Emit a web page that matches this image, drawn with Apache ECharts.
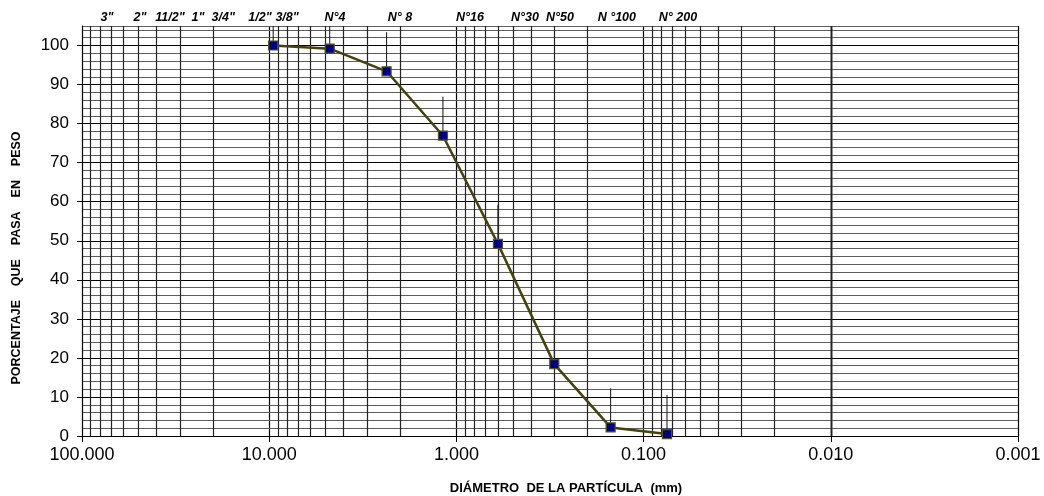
<!DOCTYPE html>
<html><head><meta charset="utf-8">
<script src="https://cdn.jsdelivr.net/npm/echarts@6/dist/echarts.min.js"></script>
<style>html,body{margin:0;padding:0;background:#fff}#c{width:1044px;height:496px}</style>
</head><body><div id="c"></div>
<script>
// ---- data ----
const sieveSizes = [9.525, 4.75, 2.36, 1.18, 0.6, 0.3, 0.15, 0.075];        // mm
const percentPassing = [100, 99.2, 93.4, 76.9, 49.2, 18.4, 2.2, 0.5];      // %
const errorBarPlus = 10;
const sieveLabels = ['3"', '2"', '11/2"', '1"', '3/4"', '1/2"', '3/8"', 'N°4', 'N° 8', 'N°16', 'N°30', 'N°50', 'N °100', 'N° 200'];
const sieveLabelAt = [73.6, 49.0, 33.9, 24.0, 17.6, 11.2, 8.03, 4.45, 2.00, 0.846, 0.430, 0.280, 0.139, 0.0655]; // mm (label anchor)
const yTickLabels = [0, 10, 20, 30, 40, 50, 60, 70, 80, 90, 100];
const decadeStarts = [0.001, 0.01, 0.1, 1, 10];
const minorMultipliers = [2, 3, 4, 5, 6, 7, 8, 9];
const xTitle = 'DIÁMETRO  DE LA PARTÍCULA  (mm)';
const yTitle = 'PORCENTAJE    QUE    PASA    EN    PESO';

const FONT = "'Liberation Sans', Arial, sans-serif";
const chart = echarts.init(document.getElementById('c'), null, {renderer: 'canvas'});

const minorLines = [];
decadeStarts.forEach(d => minorMultipliers.forEach(m => minorLines.push({xAxis: d * m})));

const mainData = sieveSizes.map((s, i) => [s, percentPassing[i]]);
const GRAY = '#5e5e5e';

chart.setOption({
  animation: false,
  backgroundColor: '#fff',
  grid: {left: 82, right: 26, top: 26, bottom: 60, containLabel: false},
  xAxis: {
    type: 'log', logBase: 10, min: 0.001, max: 100, inverse: true,
    axisLine: {show: true, onZero: false, lineStyle: {color: '#000', width: 1}},
    axisTick: {show: true, length: 6, lineStyle: {color: '#000'}},
    axisLabel: {color: '#000', fontFamily: FONT, fontSize: 18, margin: 10,
      formatter: v => Number(v).toFixed(3)},
    splitLine: {show: true, lineStyle: {color: '#000', width: 1.2}},
    minorTick: {show: false}, minorSplitLine: {show: false}
  },
  yAxis: [
    {
      type: 'value', min: 0, max: 105, interval: 10, position: 'left', z: 3,
      axisLine: {show: true, onZero: false, lineStyle: {color: '#000', width: 1}},
      axisTick: {show: true, length: 5, customValues: yTickLabels, lineStyle: {color: '#000'}},
      axisLabel: {color: '#000', fontFamily: FONT, fontSize: 17, margin: 13, customValues: yTickLabels},
      splitLine: {show: false}
    },
    {
      type: 'value', min: 0, max: 105, interval: 2, position: 'left', z: 1,
      axisLine: {show: false}, axisTick: {show: false}, axisLabel: {show: false},
      splitLine: {show: true, lineStyle: {color: ['#000', GRAY, GRAY, GRAY, GRAY], width: 1.2}}
    }
  ],
  series: [
    {
      type: 'line', data: [], silent: true, z: 1,
      markLine: {silent: true, symbol: ['none', 'none'], label: {show: false},
        lineStyle: {color: '#222', width: 1.2, type: 'solid'}, animation: false,
        data: minorLines}
    },
    {
      type: 'custom', z: 2, clip: true, silent: true,
      data: mainData,
      renderItem: (params, api) => {
        const x = api.value(0), y = api.value(1);
        const p0 = api.coord([x, y]);
        const p1 = api.coord([x, y + errorBarPlus]);
        return {type: 'line', shape: {x1: p0[0], y1: p0[1], x2: p1[0], y2: p1[1]},
          style: {stroke: '#111', lineWidth: 1}};
      }
    },
    {
      type: 'line', z: 5, data: mainData,
      symbol: 'rect', symbolSize: 9,
      lineStyle: {color: '#45420e', width: 2.5},
      itemStyle: {color: '#000080', borderColor: '#57521c', borderWidth: 1.2}
    }
  ]
});

// top sieve labels + titles positioned through the axis scale
const graphics = sieveLabels.map((t, i) => {
  const px = chart.convertToPixel({xAxisIndex: 0}, sieveLabelAt[i]);
  return {type: 'text', x: px, y: 18,
    style: {text: t, font: `italic bold 12.5px ${FONT}`, fill: '#000', align: 'center', verticalAlign: 'middle'}};
});
graphics.push({type: 'text', x: 566, y: 488,
  style: {text: xTitle, font: `bold 13px ${FONT}`, fill: '#000', align: 'center', verticalAlign: 'middle'}});
graphics.push({type: 'text', x: 17, y: 258, rotation: Math.PI / 2,
  style: {text: yTitle, font: `bold 12.5px ${FONT}`, fill: '#000', align: 'center', verticalAlign: 'middle'}});
chart.setOption({graphic: graphics});
</script></body></html>
